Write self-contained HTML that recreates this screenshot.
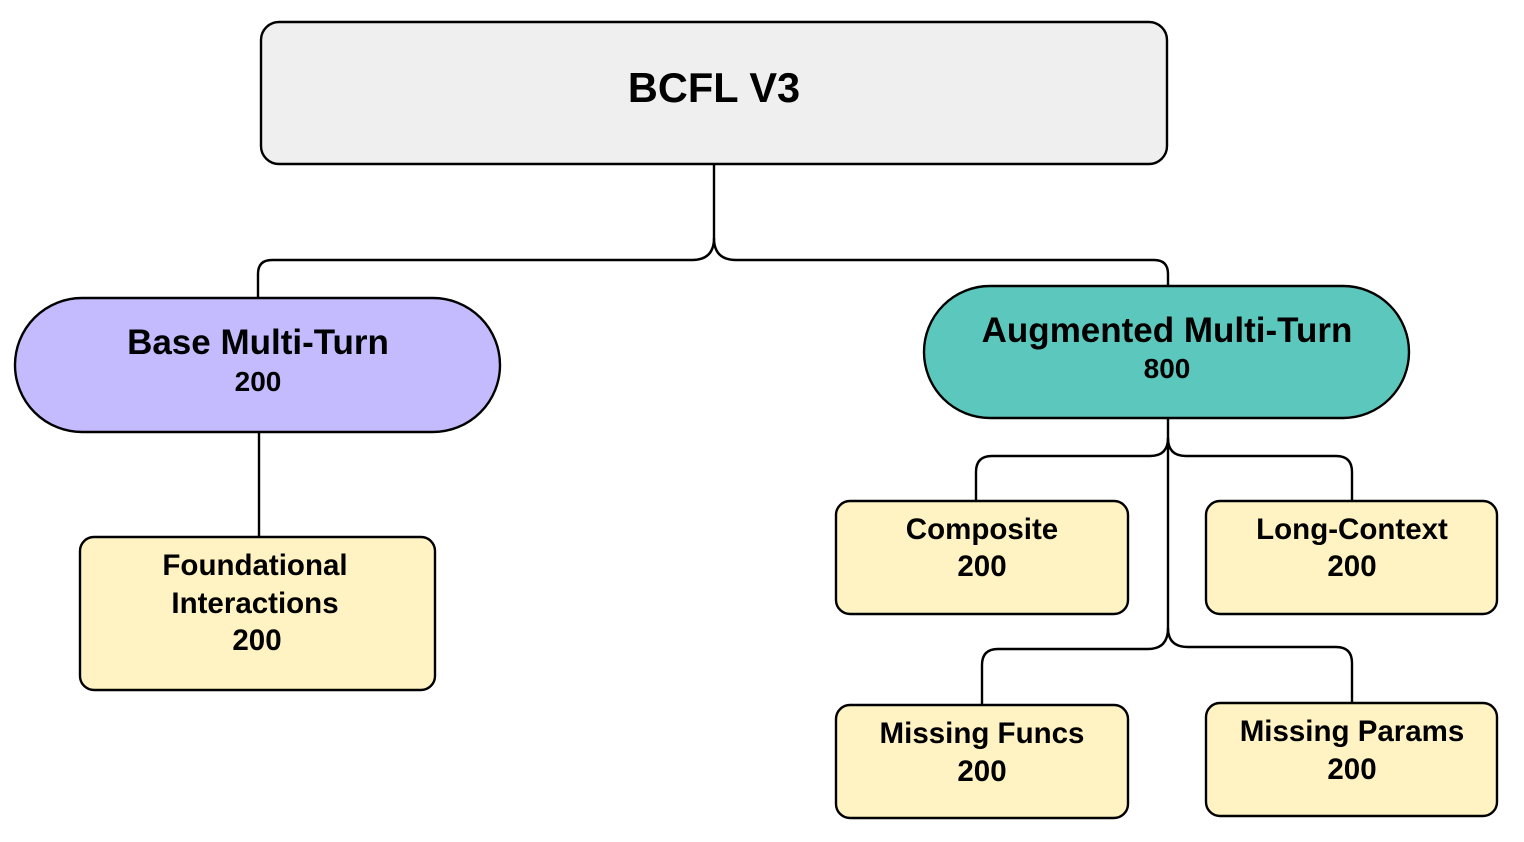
<!DOCTYPE html>
<html><head><meta charset="utf-8"><style>
html,body{margin:0;padding:0;background:#fff;}
svg{display:block;}
text{font-family:"Liberation Sans",Arial,sans-serif;font-weight:bold;fill:#000;text-anchor:middle;}
</style></head><body>
<svg width="1524" height="842" viewBox="0 0 1524 842">
<g fill="none" stroke="#000" stroke-width="2.4">
<path d="M714 164 V238 Q714 260 692 260 H272 Q258 260 258 274 V298"/>
<path d="M714 238 Q714 260 736 260 H1154 Q1168 260 1168 274 V286"/>
<path d="M259 432 V537"/>
<path d="M1168 418 V628"/>
<path d="M1168 438 Q1168 456 1150 456 H992 Q976 456 976 472 V501"/>
<path d="M1168 438 Q1168 456 1186 456 H1336 Q1352 456 1352 472 V501"/>
<path d="M1168 628 Q1168 649 1148 649 H998 Q982 649 982 665 V705"/>
<path d="M1168 628 Q1168 647 1188 647 H1336 Q1352 647 1352 663 V703"/>
</g>
<g stroke="#000" stroke-width="2.4">
<rect x="261" y="22" width="906" height="142" rx="18" fill="#efefef"/>
<rect x="15" y="298" width="485" height="134" rx="67" fill="#c4bbfe"/>
<rect x="924" y="286" width="485" height="132" rx="66" fill="#5cc8bd"/>
<rect x="80" y="537" width="355" height="153" rx="14" fill="#fff2c3"/>
<rect x="836" y="501" width="292" height="113" rx="14" fill="#fff2c3"/>
<rect x="1206" y="501" width="291" height="113" rx="14" fill="#fff2c3"/>
<rect x="836" y="705" width="292" height="113" rx="14" fill="#fff2c3"/>
<rect x="1206" y="703" width="291" height="113" rx="14" fill="#fff2c3"/>
</g>
<text x="714" y="102" font-size="41.5">BCFL V3</text>
<text x="258" y="354" font-size="35">Base Multi-Turn</text>
<text x="258" y="391" font-size="28">200</text>
<text x="1167" y="342" font-size="35">Augmented Multi-Turn</text>
<text x="1167" y="378" font-size="28">800</text>
<text x="255" y="575" font-size="29.5">Foundational</text>
<text x="255" y="613" font-size="29.5">Interactions</text>
<text x="257" y="650" font-size="29.5">200</text>
<text x="982" y="539" font-size="29.5">Composite</text>
<text x="982" y="576" font-size="29.5">200</text>
<text x="1352" y="539" font-size="29.5">Long-Context</text>
<text x="1352" y="576" font-size="29.5">200</text>
<text x="982" y="743" font-size="29.5">Missing Funcs</text>
<text x="982" y="781" font-size="29.5">200</text>
<text x="1352" y="741" font-size="29.5">Missing Params</text>
<text x="1352" y="779" font-size="29.5">200</text>
</svg>
</body></html>
